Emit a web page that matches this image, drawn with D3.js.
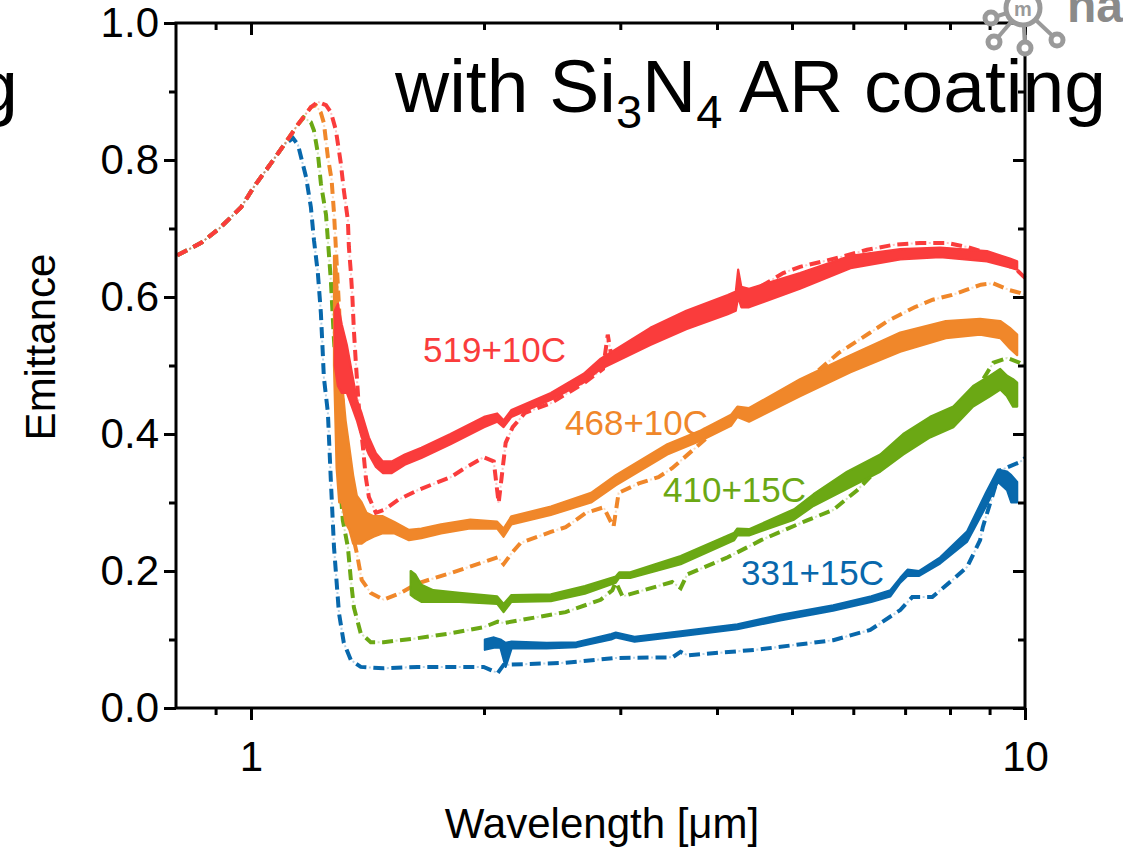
<!DOCTYPE html>
<html><head><meta charset="utf-8">
<script src="https://cdn.jsdelivr.net/npm/d3@7"></script>
<style>
html,body{margin:0;padding:0;background:#fff;}
svg text{font-family:"Liberation Sans",Arial,sans-serif;}
</style></head>
<body>
<svg id="c" width="1123" height="847"></svg>
<script>
// ---------- data (wavelength in µm, emittance) ----------
const xMajorTicks = [1, 10];
const xMinorTicks = [0.9, 2, 3, 4, 5, 6, 7, 8, 9];
const yMajorTicks = [0, 0.2, 0.4, 0.6, 0.8, 1.0];
const yMinorTicks = [0.1, 0.3, 0.5, 0.7, 0.9];

const seriesNames  = ["331+15C", "410+15C", "468+10C", "519+10C"];
const seriesColors = ["#0868AC", "#6BA814", "#F0872A", "#FA3C3C"];

// simulated spectra (dash-dot)
const simBlue = [[0.803,.661],[0.829,.669],[0.862,.679],[0.91,.700],[0.971,.731],[1.009,.761],[1.061,.795],[1.103,.822],[1.133,.832],[1.150,.822],[1.178,.775],[1.195,.731],[1.206,.683],[1.220,.635],[1.231,.577],[1.237,.527],[1.242,.483],[1.257,.431],[1.268,.333],[1.280,.235],[1.299,.139],[1.318,.095],[1.346,.070],[1.386,.060],[1.484,.058],[1.642,.060],[1.811,.060],[1.998,.060],[2.083,.051],[2.120,.063],[2.550,.066],[2.958,.073],[3.504,.074],[3.589,.082],[3.664,.077],[4.497,.085],[5.653,.099],[6.31,.114],[6.90,.143],[7.15,.162],[7.59,.162],[8.06,.187],[8.42,.206],[8.75,.245],[8.82,.264],[9.29,.347],[9.85,.359],[10,.365]];
const simGreen = [[0.803,.661],[0.829,.669],[0.862,.679],[0.91,.700],[0.971,.731],[1.009,.761],[1.061,.795],[1.103,.822],[1.150,.852],[1.170,.862],[1.195,.855],[1.206,.843],[1.220,.810],[1.231,.766],[1.250,.720],[1.268,.625],[1.280,.537],[1.287,.498],[1.299,.352],[1.314,.274],[1.334,.235],[1.346,.187],[1.358,.147],[1.386,.109],[1.428,.096],[1.484,.096],[1.642,.102],[1.811,.109],[1.998,.118],[2.083,.126],[2.120,.124],[2.55,.140],[2.83,.158],[2.93,.172],[2.96,.184],[3.02,.163],[3.50,.184],[3.59,.175],[3.66,.195],[4.13,.220],[4.56,.245],[5.23,.274],[5.65,.289],[6.07,.318],[6.6,.36],[7.3,.40],[8.0,.428],[8.6,.46],[8.93,.489],[9.1,.504],[9.48,.511],[9.85,.504],[10,.50]];
const simOrange = [[0.803,.661],[0.829,.669],[0.862,.679],[0.91,.700],[0.971,.731],[1.009,.761],[1.061,.795],[1.103,.822],[1.150,.852],[1.195,.877],[1.213,.880],[1.231,.869],[1.242,.854],[1.257,.804],[1.271,.771],[1.280,.723],[1.287,.673],[1.30,.58],[1.316,.42],[1.334,.30],[1.358,.245],[1.370,.226],[1.39,.187],[1.428,.168],[1.484,.158],[1.56,.168],[1.642,.182],[1.811,.197],[1.998,.213],[2.083,.220],[2.120,.210],[2.171,.226],[2.23,.241],[2.44,.257],[2.55,.264],[2.71,.285],[2.855,.293],[2.94,.264],[2.985,.314],[3.17,.328],[3.36,.337],[3.50,.350],[4.1,.418],[4.5,.44],[4.87,.460],[5.03,.469],[5.36,.489],[5.74,.518],[6.29,.547],[6.67,.566],[7.2,.585],[7.6,.596],[8.05,.603],[8.38,.610],[8.77,.618],[9.10,.620],[9.55,.610],[9.85,.606],[10,.603]];
const simRed = [[0.803,.661],[0.829,.669],[0.862,.679],[0.91,.700],[0.971,.731],[1.009,.761],[1.061,.795],[1.103,.822],[1.150,.852],[1.195,.877],[1.220,.885],[1.25,.880],[1.268,.870],[1.287,.844],[1.306,.796],[1.318,.756],[1.334,.712],[1.338,.673],[1.346,.635],[1.352,.600],[1.358,.552],[1.366,.504],[1.38,.43],[1.395,.381],[1.407,.337],[1.42,.308],[1.45,.285],[1.484,.289],[1.55,.304],[1.642,.318],[1.811,.337],[1.90,.352],[1.998,.366],[2.059,.36],[2.089,.299],[2.133,.387],[2.178,.41],[2.26,.431],[2.44,.445],[2.69,.474],[2.85,.495],[2.89,.545],[2.93,.505],[3.3,.54],[3.9,.575],[4.3,.60],[4.63,.620],[4.87,.635],[5.12,.644],[5.77,.658],[6.25,.669],[6.75,.676],[7.32,.679],[7.93,.679],[8.42,.673],[8.93,.664],[9.77,.639],[10,.628]];

// measured spectra: [wavelength, lower envelope, upper envelope]
const measBlue = [[2.005,.085,.10],[2.06,.088,.103],[2.10,.088,.10],[2.133,.06,.095],[2.171,.087,.097],[2.41,.087,.095],[2.634,.089,.096],[2.92,.10,.108],[2.96,.103,.11],[3.13,.097,.104],[3.59,.105,.112],[4.25,.115,.122],[4.83,.128,.136],[5.65,.142,.15],[6.33,.155,.163],[6.70,.163,.172],[6.90,.183,.19],[7.05,.193,.202],[7.30,.193,.20],[7.77,.211,.22],[8.42,.243,.258],[8.91,.295,.315],[9.23,.33,.348],[9.48,.318,.345],[9.60,.30,.34],[9.77,.30,.33]];
const measGreen = [[1.608,.165,.20],[1.63,.16,.195],[1.66,.155,.18],[1.72,.155,.172],[1.86,.155,.168],[2.00,.153,.165],[2.08,.152,.163],[2.12,.14,.152],[2.17,.155,.165],[2.44,.156,.166],[2.70,.167,.178],[2.96,.183,.192],[2.99,.19,.198],[3.09,.19,.198],[3.59,.21,.222],[4.21,.245,.256],[4.25,.252,.262],[4.40,.252,.261],[5.03,.275,.29],[5.33,.295,.312],[5.89,.32,.345],[6.50,.345,.37],[6.96,.37,.40],[7.54,.395,.425],[8.08,.41,.44],[8.57,.44,.47],[9.01,.455,.485],[9.29,.465,.495],[9.48,.455,.485],[9.65,.44,.48],[9.77,.44,.475]];
const measOrange = [[1.28,.50,.66],[1.29,.35,.64],[1.30,.30,.55],[1.31,.30,.48],[1.325,.27,.42],[1.34,.26,.38],[1.355,.24,.34],[1.37,.24,.31],[1.39,.24,.30],[1.41,.245,.285],[1.44,.25,.28],[1.48,.255,.28],[1.53,.255,.272],[1.60,.245,.26],[1.66,.248,.262],[1.76,.255,.268],[1.92,.262,.275],[2.08,.262,.272],[2.12,.25,.262],[2.17,.268,.28],[2.44,.282,.294],[2.75,.30,.314],[2.96,.325,.34],[3.45,.37,.385],[3.81,.39,.405],[4.17,.412,.428],[4.25,.425,.44],[4.40,.418,.438],[5.12,.455,.48],[5.95,.49,.515],[6.9,.52,.548],[7.9,.54,.565],[8.75,.545,.568],[9.29,.54,.565],[9.56,.525,.555],[9.77,.515,.545]];
const measRed = [[1.283,.50,.58],[1.295,.47,.59],[1.31,.46,.56],[1.33,.46,.53],[1.35,.44,.49],[1.37,.42,.45],[1.39,.395,.43],[1.42,.37,.395],[1.45,.352,.372],[1.48,.343,.36],[1.52,.343,.36],[1.58,.355,.37],[1.66,.365,.38],[1.81,.385,.40],[2.00,.41,.425],[2.08,.418,.43],[2.12,.41,.42],[2.17,.425,.435],[2.44,.45,.46],[2.69,.475,.488],[2.83,.495,.51],[3.28,.53,.555],[3.65,.553,.58],[4.13,.575,.603],[4.23,.58,.608],[4.26,.60,.64],[4.30,.585,.615],[4.40,.585,.612],[5.12,.612,.635],[5.95,.642,.66],[6.9,.655,.67],[7.77,.658,.672],[8.93,.652,.667],[9.56,.643,.656],[9.77,.640,.652]];

const labelPos = [[741,585],[663,502],[565,435],[423,362]]; // label anchors in px

// ---------- drawing ----------
const svg = d3.select("#c");
const L = 176, R = 1025, T = 23, B = 708;
const x = d3.scaleLog().domain([0.8, 10]).range([L, R]);
const y = d3.scaleLinear().domain([0, 1]).range([B, T]);

const sims = [simBlue, simGreen, simOrange, simRed];
const meas = [measBlue, measGreen, measOrange, measRed];

const gPlot = svg.append("g");
const line = d3.line().x(d => x(d[0])).y(d => y(d[1]));
sims.forEach((s, i) => {
  gPlot.append("path").attr("d", line(s)).attr("fill", "none")
    .attr("stroke", seriesColors[i]).attr("stroke-width", 4)
    .attr("stroke-dasharray", "11 7");
  gPlot.append("path").attr("d", line(s)).attr("fill", "none")
    .attr("stroke", seriesColors[i]).attr("stroke-width", 2).attr("stroke-opacity", 0.3)
    .attr("stroke-dasharray", "0 13.5 2 2.5");
});
const area = d3.area().x(d => x(d[0])).y0(d => y(d[1])).y1(d => y(d[2]));
meas.forEach((m, i) => {
  gPlot.append("path").attr("d", area(m)).attr("fill", seriesColors[i])
    .attr("stroke", seriesColors[i]).attr("stroke-width", 2.2).attr("stroke-linejoin", "round");
});

// labels
seriesNames.forEach((n, i) => {
  svg.append("text").attr("x", labelPos[i][0]).attr("y", labelPos[i][1])
    .attr("fill", seriesColors[i]).attr("font-size", 35).text(n);
});

// axes
function styleAxis(g) {
  g.select(".domain").remove();
  g.selectAll(".tick line").attr("stroke", "#000").attr("stroke-width", 3);
  g.selectAll(".tick text").attr("fill", "#000").attr("font-size", 42)
    .attr("font-family", "Liberation Sans, Arial, sans-serif");
}
svg.append("g").attr("transform", `translate(${L},0)`)
  .call(d3.axisLeft(y).tickValues(yMajorTicks).tickSize(12).tickPadding(5).tickFormat(d3.format(".1f"))).call(styleAxis);
svg.append("g").attr("transform", `translate(${L},0)`)
  .call(d3.axisLeft(y).tickValues(yMinorTicks).tickSize(7).tickFormat("")).call(styleAxis);
svg.append("g").attr("transform", `translate(${R},0)`)
  .call(d3.axisRight(y).tickValues(yMajorTicks).tickSize(-12).tickFormat("")).call(styleAxis);
svg.append("g").attr("transform", `translate(${R},0)`)
  .call(d3.axisRight(y).tickValues(yMinorTicks).tickSize(-7).tickFormat("")).call(styleAxis);
svg.append("g").attr("transform", `translate(0,${B})`)
  .call(d3.axisBottom(x).tickValues(xMajorTicks).tickSize(12).tickPadding(21).tickFormat(d3.format("d"))).call(styleAxis);
svg.append("g").attr("transform", `translate(0,${B})`)
  .call(d3.axisBottom(x).tickValues(xMinorTicks).tickSize(7).tickFormat("")).call(styleAxis);
svg.append("g").attr("transform", `translate(0,${T})`)
  .call(d3.axisTop(x).tickValues(xMajorTicks).tickSize(-12).tickFormat("")).call(styleAxis);
svg.append("g").attr("transform", `translate(0,${T})`)
  .call(d3.axisTop(x).tickValues(xMinorTicks).tickSize(-7).tickFormat("")).call(styleAxis);
svg.append("rect").attr("x", L).attr("y", T).attr("width", R - L).attr("height", B - T)
  .attr("fill", "none").attr("stroke", "#000").attr("stroke-width", 3);

// axis titles
svg.append("text").attr("transform", "translate(55,347) rotate(-90)")
  .attr("text-anchor", "middle").attr("font-size", 42).text("Emittance");
svg.append("text").attr("x", 602).attr("y", 838)
  .attr("text-anchor", "middle").attr("font-size", 42).text("Wavelength [\u03bcm]");

// title
const t = svg.append("text").attr("x", 395).attr("y", 112).attr("font-size", 75).attr("fill", "#000");
t.append("tspan").text("with Si");
t.append("tspan").attr("font-size", 47).attr("dy", 16).text("3");
t.append("tspan").attr("dy", -16).text("N");
t.append("tspan").attr("font-size", 47).attr("dy", 16).text("4");
t.append("tspan").attr("dy", -16).text(" AR coating");
// cut-off text at left edge (continuation of a neighbouring title)
svg.append("text").attr("x", 18).attr("y", 112).attr("text-anchor", "end").attr("font-size", 75).text("g");

// partial logo top-right
const lg = svg.append("g").attr("fill", "none").attr("stroke", "#9a9a9a").attr("stroke-width", 5);
[[991,18],[994,42],[1025,48],[1057,40]].forEach(p => {
  lg.append("line").attr("x1", 1023).attr("y1", 8).attr("x2", p[0]).attr("y2", p[1]).attr("stroke-width", 4);
  lg.append("circle").attr("cx", p[0]).attr("cy", p[1]).attr("r", 6).attr("fill", "#fff");
});
lg.append("circle").attr("cx", 1023).attr("cy", 8).attr("r", 17).attr("fill", "#fff");
svg.append("text").attr("x", 1023).attr("y", 16).attr("text-anchor", "middle").attr("font-size", 20)
  .attr("font-weight", "bold").attr("fill", "#9a9a9a").text("m");
svg.append("text").attr("x", 1067).attr("y", 22).attr("font-size", 48).attr("font-weight", "bold")
  .attr("fill", "#8a8a8a").text("na");
</script>
</body></html>
